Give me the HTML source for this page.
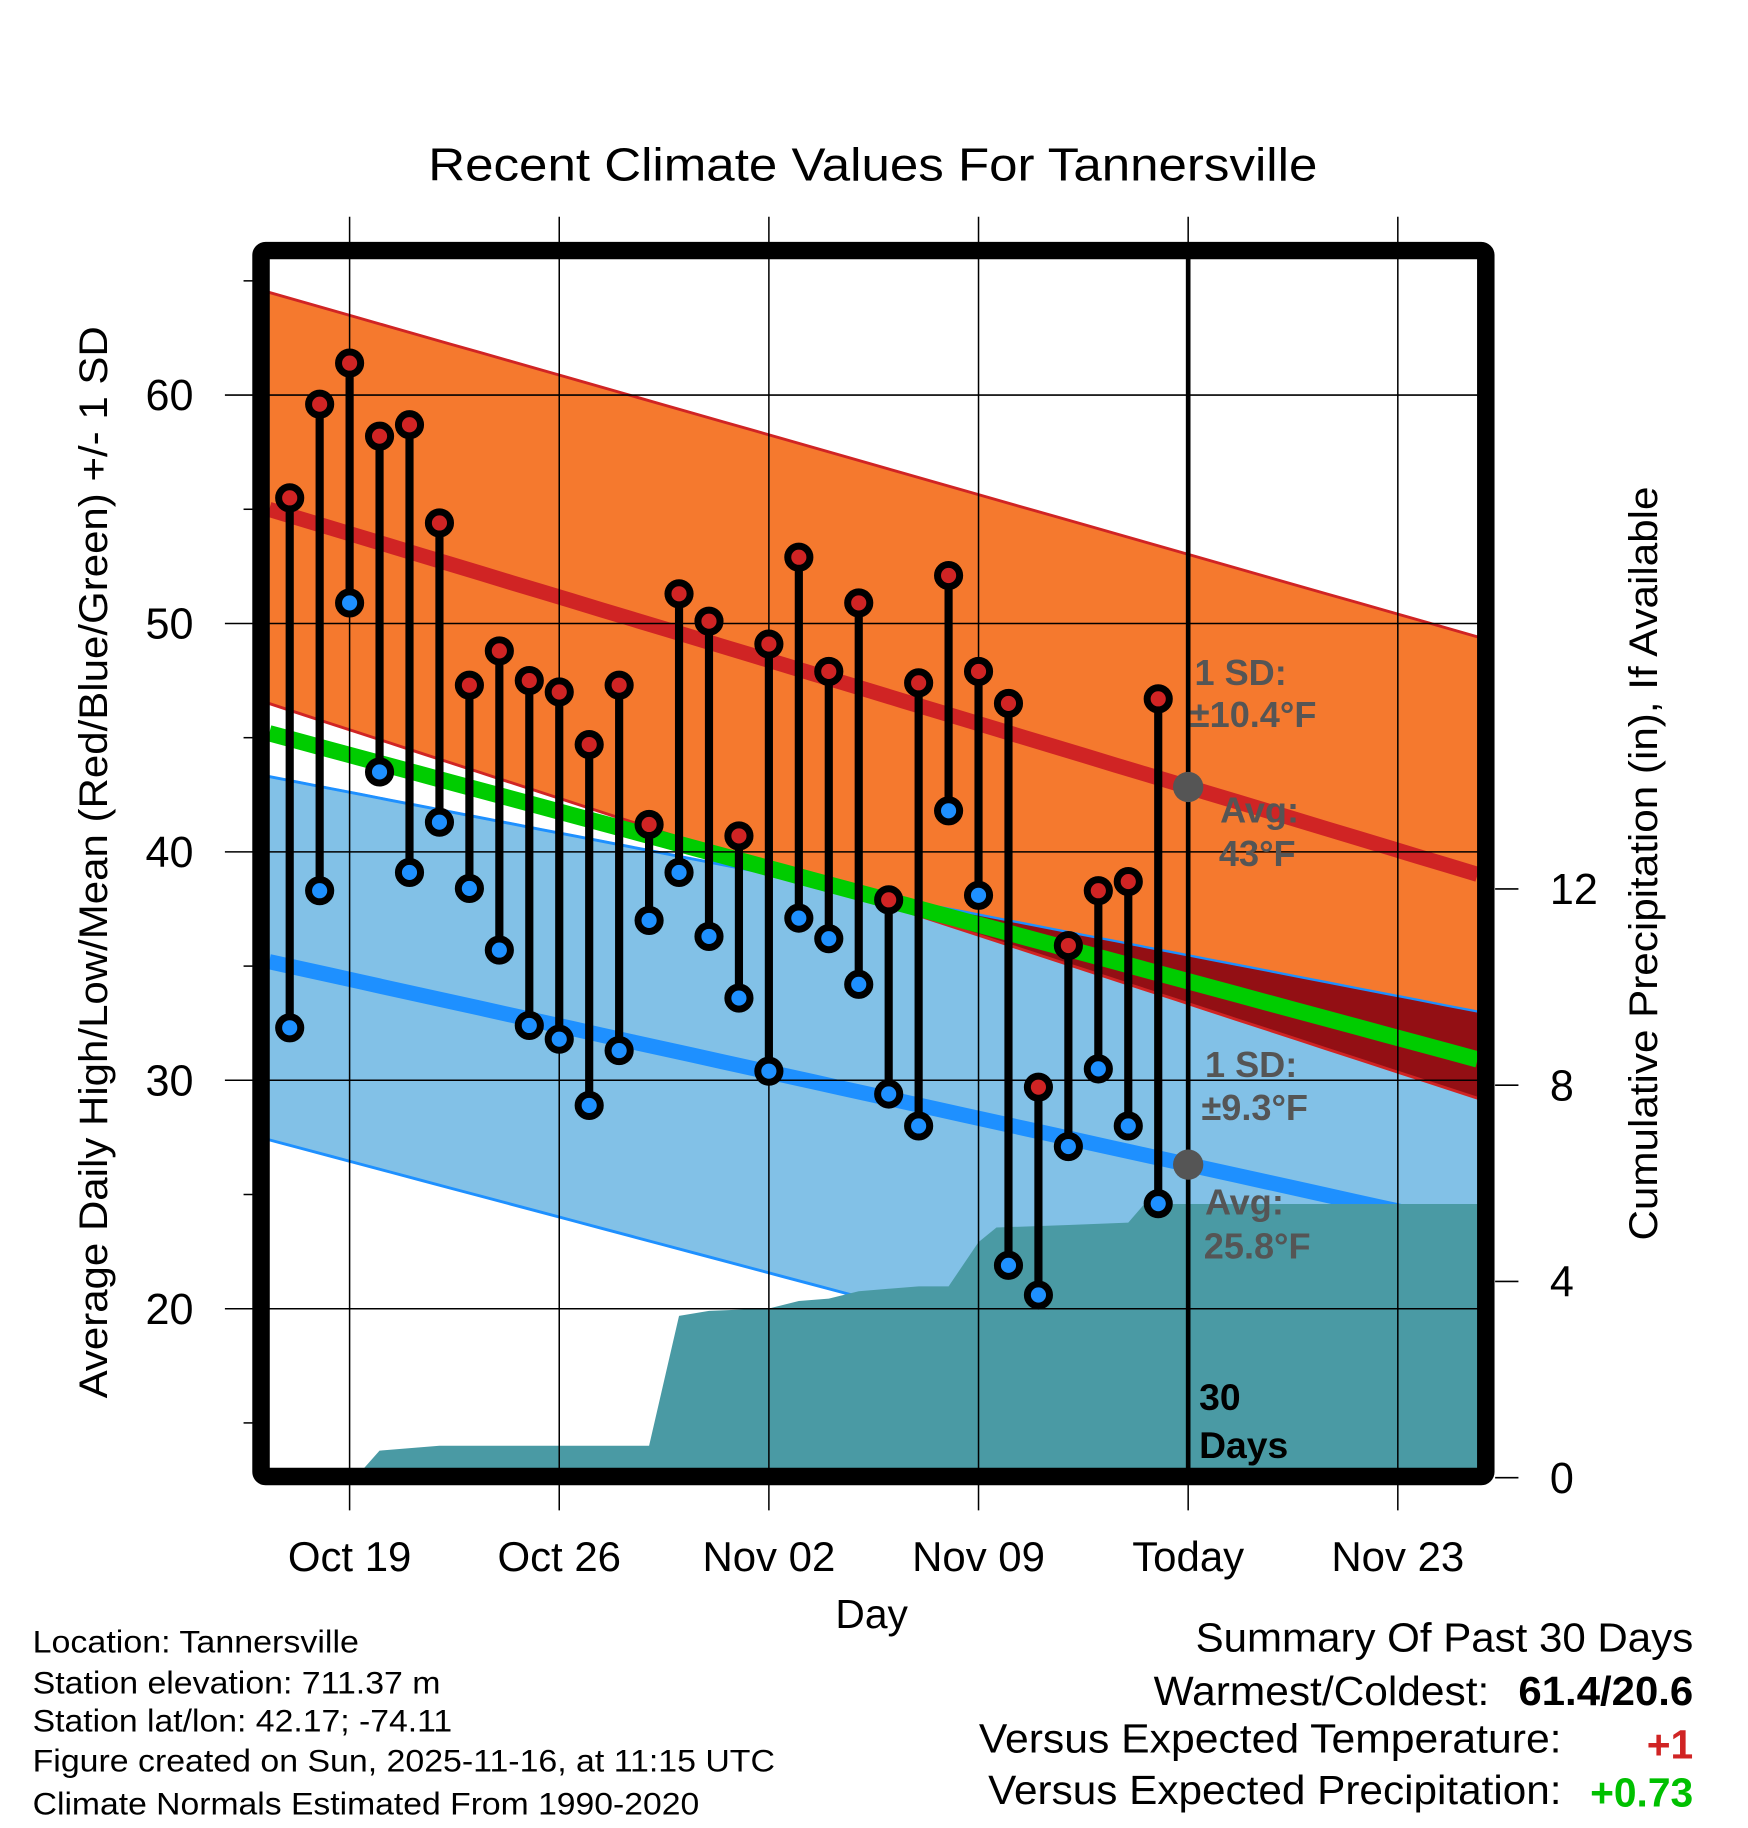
<!DOCTYPE html>
<html><head><meta charset="utf-8"><style>
html,body{margin:0;padding:0;background:#fff;}
svg{display:block;}
text{font-family:"Liberation Sans",Arial,sans-serif;}
</style></head><body>
<svg id="chart" width="1748" height="1828" viewBox="0 0 1500 1568.6" preserveAspectRatio="none" xmlns="http://www.w3.org/2000/svg"></svg>
<script>
// ---- data ----
const xTickDays = [0, 7, 14, 21, 28, 35];
const xTickLabels = ["Oct 19", "Oct 26", "Nov 02", "Nov 09", "Today", "Nov 23"];
const yTicks = [20, 30, 40, 50, 60];
const yMinorTicks = [15, 25, 35, 45, 55, 65];
const precipTicks = [0, 4, 8, 12];
const obsDays = [-2,-1,0,1,2,3,4,5,6,7,8,9,10,11,12,13,14,15,16,17,18,19,20,21,22,23,24,25,26,27];
const highs = [55.5,59.6,61.4,58.2,58.7,54.4,47.3,48.8,47.5,47.0,44.7,47.3,41.2,51.3,50.1,40.7,49.1,52.9,47.9,50.9,37.9,47.4,52.1,47.9,46.5,29.7,35.9,38.3,38.7,46.7];
const lows = [32.3,38.3,50.9,43.5,39.1,41.3,38.4,35.7,32.4,31.8,28.9,31.3,37.0,39.1,36.3,33.6,30.4,37.1,36.2,34.2,29.4,28.0,41.8,38.1,21.9,20.6,27.1,30.5,28.0,24.6];
const normDays = [-2.7, 37.7];
const normHigh = [55.0, 39.0];
const normHighUpper = [64.5, 49.4];
const normHighLower = [46.5, 29.2];
const normMean = [45.2, 30.9];
const normLow = [35.2, 23.5];
const normLowUpper = [43.3, 33.0];
const normLowLower = [27.4, 13.3];
const precipDays = [0.2, 1, 3, 10, 11, 12, 14, 15, 16, 17, 19, 20, 21, 21.6, 24, 26, 26.5, 27, 37.7];
const precipCum = [0, 0.55, 0.65, 0.65, 3.3, 3.4, 3.45, 3.6, 3.65, 3.8, 3.9, 3.9, 4.8, 5.1, 5.15, 5.2, 5.55, 5.58, 5.58];

// ---- axes ----
const PL=231, PR=1268, PT=222, PB=1260;
const X = d => 300 + d*25.7;
const Y = v => 339 + (60 - v)*19.6;
const YP = p => 1268 - p*42.1;
const NS='http://www.w3.org/2000/svg';
const svg=document.getElementById('chart');
function el(tag, attrs, parent){const e=document.createElementNS(NS,tag);for(const k in attrs)e.setAttribute(k,attrs[k]);(parent||svg).appendChild(e);return e;}
function interp(days, vals, d){ if(d<=days[0]) return vals[0]+(vals[1]-vals[0])*(d-days[0])/(days[1]-days[0]); for(let i=1;i<days.length;i++){ if(d<=days[i]) return vals[i-1]+(vals[i]-vals[i-1])*(d-days[i-1])/(days[i]-days[i-1]); } const n=days.length; return vals[n-1]+(vals[n-1]-vals[n-2])*(d-days[n-1])/(days[n-1]-days[n-2]); }
const d0=(PL-300)/25.7, d1=(PR-300)/25.7;
function sampleLine(arr, n){const pts=[];for(let i=0;i<=n;i++){const d=d0+(d1-d0)*i/n;pts.push([X(d),Y(interp(normDays,arr,d))]);}return pts;}
function bandPath(top, bot){const a=sampleLine(top,40), b=sampleLine(bot,40).reverse();return 'M'+a.concat(b).map(p=>p[0].toFixed(1)+','+p[1].toFixed(1)).join('L')+'Z';}
function linePath(arr){return 'M'+sampleLine(arr,40).map(p=>p[0].toFixed(1)+','+p[1].toFixed(1)).join('L');}

const title=el('text',{x:749,y:155,'font-size':40,'text-anchor':'middle',textLength:763,lengthAdjust:'spacingAndGlyphs'});


title.textContent='Recent Climate Values For Tannersville';

const defs=el('defs',{});
const cp=el('clipPath',{id:'plotclip'},defs);
el('rect',{x:PL,y:PT,width:PR-PL,height:PB-PT},cp);
const plot=el('g',{'clip-path':'url(#plotclip)'});



// low SD band
const lb=el('path',{d:bandPath(normLowUpper,normLowLower),fill:'#82c1e7'},plot);


el('path',{d:linePath(normLowUpper),fill:'none',stroke:'#1e90ff','stroke-width':2.5},plot);
el('path',{d:linePath(normLowLower),fill:'none',stroke:'#1e90ff','stroke-width':2.5},plot);
// high SD band
const hb=el('path',{d:bandPath(normHighUpper,normHighLower),fill:'#f5792e'},plot);


// overlap
{const n=80,top=[],bot=[];for(let i=0;i<=n;i++){const d=d0+(d1-d0)*i/n;const u=interp(normDays,normLowUpper,d),l=interp(normDays,normHighLower,d);if(u>l){top.push([X(d),Y(u)]);bot.push([X(d),Y(l)]);}}
 if(top.length>1){const pts=top.concat(bot.reverse());const ov=el('path',{d:'M'+pts.map(p=>p[0].toFixed(1)+','+p[1].toFixed(1)).join('L')+'Z',fill:'#930f14'},plot);
 
 }}
el('path',{d:linePath(normHighUpper),fill:'none',stroke:'#d02424','stroke-width':2.5},plot);
el('path',{d:linePath(normHighLower),fill:'none',stroke:'#d02424','stroke-width':2.5},plot);
el('path',{d:linePath(normLowUpper),fill:'none',stroke:'#1e90ff','stroke-width':2},plot);
// normal lines
const nh=el('path',{d:linePath(normHigh),fill:'none',stroke:'#d02424','stroke-width':13},plot);


const nm=el('path',{d:linePath(normMean),fill:'none',stroke:'#00cc00','stroke-width':14},plot);


const nl=el('path',{d:linePath(normLow),fill:'none',stroke:'#1e90ff','stroke-width':13},plot);


// precip (drawn over normals)
{const pts=[[X(precipDays[0]),YP(0)]];for(let i=0;i<precipDays.length;i++)pts.push([X(precipDays[i]),YP(precipCum[i])]);pts.push([X(precipDays[precipDays.length-1]),YP(0)]);
 const pa=el('path',{d:'M'+pts.map(p=>p[0].toFixed(1)+','+p[1].toFixed(1)).join('L')+'Z',fill:'#4a9aa4'},plot);
 
 }
// grid
for(const d of xTickDays){el('line',{x1:X(d),x2:X(d),y1:186,y2:1296,stroke:'#000','stroke-width':1.3});}
for(const v of yTicks){el('line',{x1:193,x2:PR,y1:Y(v),y2:Y(v),stroke:'#000','stroke-width':1.3});}

// today line
const tl=el('line',{x1:X(28),x2:X(28),y1:PT,y2:PB,stroke:'#000','stroke-width':4});


el('circle',{cx:X(28),cy:Y(interp(normDays,normHigh,28)),r:13,fill:'#555'});
el('circle',{cx:X(28),cy:Y(interp(normDays,normLow,28)),r:13,fill:'#555'});

// stems and dots
for(let i=0;i<obsDays.length;i++){
  const x=X(obsDays[i]);
  const s=el('line',{x1:x,x2:x,y1:Y(highs[i]),y2:Y(lows[i]),stroke:'#000','stroke-width':7});
  
  
  const h=el('circle',{cx:x,cy:Y(highs[i]),r:9.5,fill:'#d02424',stroke:'#000','stroke-width':6});
  
  
  const l=el('circle',{cx:x,cy:Y(lows[i]),r:9.5,fill:'#1e90ff',stroke:'#000','stroke-width':6});
  
  
}

// frame
const fr=el('rect',{x:224,y:215,width:1051,height:1052,fill:'none',stroke:'#000','stroke-width':15,rx:4});



// y ticks
for(const v of yMinorTicks){el('line',{x1:209,x2:217,y1:Y(v),y2:Y(v),stroke:'#000','stroke-width':1.3});}
for(const v of yTicks){const t=el('text',{x:166,y:Y(v)+13,'font-size':37,'text-anchor':'end'});
 
 
 t.textContent=v;}
for(const p of precipTicks){el('line',{x1:1283,x2:1303,y1:YP(p),y2:YP(p),stroke:'#000','stroke-width':1.3});
 const t=el('text',{x:1330,y:YP(p)+13,'font-size':37});
 
 
 t.textContent=p;}
for(let i=0;i<xTickDays.length;i++){const t=el('text',{x:X(xTickDays[i]),y:1348,'font-size':36,'text-anchor':'middle'});
 
 
 t.textContent=xTickLabels[i];}
</script>
<script>
// static labels
(function(){
const svg=document.getElementById('chart');const NS='http://www.w3.org/2000/svg';
function txt(x,y,s,str,extra){const t=document.createElementNS(NS,'text');t.setAttribute('x',x);t.setAttribute('y',y);t.setAttribute('font-size',s);for(const k in (extra||{}))t.setAttribute(k,extra[k]);t.textContent=str;svg.appendChild(t);return t;}
const LA='spacingAndGlyphs';
let t;
t=txt(748,1397,35,'Day',{'text-anchor':'middle'});


t=txt(0,0,34,'Average Daily High/Low/Mean (Red/Blue/Green) +/- 1 SD',{'text-anchor':'middle',transform:'translate(92,740) rotate(-90)',textLength:920,lengthAdjust:LA});


t=txt(0,0,34,'Cumulative Precipitation (in), If Available',{'text-anchor':'middle',transform:'translate(1422,741) rotate(-90)',textLength:647,lengthAdjust:LA});


const g={fill:'#555','font-weight':'bold'};
t=txt(1025,588,31,'1 SD:',g);
txt(1021,624,31,'±10.4°F',g);
t=txt(1047,706,31,'Avg:',g);
txt(1046,743,31,'43°F',g);
t=txt(1034,924,31,'1 SD:',g);
txt(1031,961,31,'±9.3°F',g);
t=txt(1034,1042,31,'Avg:',g);
txt(1033,1080,31,'25.8°F',g);
t=txt(1029,1210,32,'30',{'font-weight':'bold'});
txt(1029,1251,32,'Days',{'font-weight':'bold'});
const left=['Location: Tannersville','Station elevation: 711.37 m','Station lat/lon: 42.17; -74.11','Figure created on Sun, 2025-11-16, at 11:15 UTC','Climate Normals Estimated From 1990-2020'];
const lw=[280,350,360,637,572];
const ly=[1418,1453,1486,1520,1557];
for(let i=0;i<left.length;i++){t=txt(28,ly[i],27,left[i],{textLength:lw[i],lengthAdjust:LA});}
t=txt(1453,1417,35,'Summary Of Past 30 Days',{'text-anchor':'end',textLength:427,lengthAdjust:LA});
t=txt(1278,1463,35,'Warmest/Coldest:',{'text-anchor':'end',textLength:288,lengthAdjust:LA});
txt(1453,1463,35,'61.4/20.6',{'text-anchor':'end','font-weight':'bold',textLength:150,lengthAdjust:LA});
t=txt(1340,1504,35,'Versus Expected Temperature:',{'text-anchor':'end',textLength:500,lengthAdjust:LA});
txt(1453,1509,35,'+1',{'text-anchor':'end','font-weight':'bold',fill:'#d02424'});
t=txt(1340,1548,35,'Versus Expected Precipitation:',{'text-anchor':'end',textLength:492,lengthAdjust:LA});
txt(1453,1550,35,'+0.73',{'text-anchor':'end','font-weight':'bold',fill:'#00c000'});
})();
</script>
</body></html>
